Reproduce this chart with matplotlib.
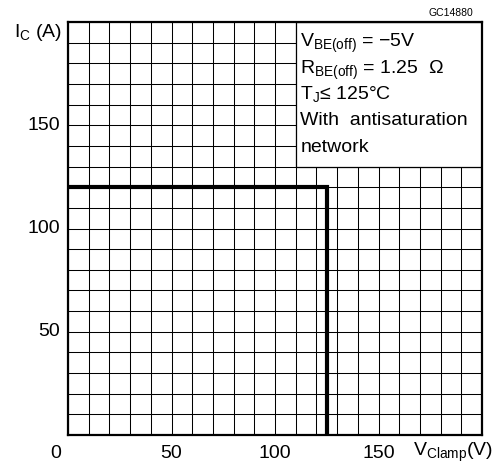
import matplotlib
matplotlib.use("Agg")
import matplotlib.pyplot as plt
from matplotlib.patches import Rectangle

plt.rcParams['font.family'] = ['Liberation Sans', 'DejaVu Sans']
plt.rcParams['mathtext.fontset'] = 'custom'
plt.rcParams['mathtext.rm'] = 'Liberation Sans'
plt.rcParams['mathtext.it'] = 'Liberation Sans'

# --- data ---
v_clamp = [0, 125, 125]      # V
i_c = [120, 120, 0]          # A
grid_step = 10
x_ticks = [50, 100, 150]
y_ticks = [50, 100, 150]
notes = [r'$\mathregular{V_{BE(off)}}$ = −5V',
         r'$\mathregular{R_{BE(off)}}$ = 1.25  Ω',
         r'$\mathregular{T_J}$≤ 125°C',
         'With  antisaturation',
         'network']
note_y = [188, 175, 162.7, 150.1, 137.1]

W, H = 496, 471
fig = plt.figure(figsize=(W / 100, H / 100), dpi=100)
ax = fig.add_axes([68 / W, 36 / H, 414 / W, 413 / H])
ax.set_xlim(0, 200)
ax.set_ylim(0, 200)

# grid
ax.set_xticks(range(0, 201, grid_step))
ax.set_yticks(range(0, 201, grid_step))
ax.set_xticklabels([])
ax.set_yticklabels([])
ax.tick_params(length=0)
ax.grid(True, color='black', lw=0.75)
ax.set_axisbelow(True)
for s in ax.spines.values():
    s.set_linewidth(1.6)

# tick labels
for v in x_ticks:
    ax.text(v, -5, str(v), ha='center', va='top', fontsize=14)
for v in y_ticks:
    ax.text(-4, v, str(v), ha='right', va='center', fontsize=14)
ax.text(-6, -5, '0', ha='center', va='top', fontsize=14)

# note box
ax.add_patch(Rectangle((110, 130), 90, 70, facecolor='white',
                       edgecolor='black', lw=0.9, zorder=2))
for t, y in zip(notes, note_y):
    ax.text(112.2, y, t, ha='left', va='baseline', fontsize=14, zorder=3)

# SOA curve
ax.plot(v_clamp, i_c, color='black', lw=3, solid_joinstyle='miter', zorder=4)

# axis labels
fig.text(62 / W, 1 - 37 / H, r'$\mathregular{I_C}$ (A)', ha='right',
         va='baseline', fontsize=14)
fig.text(493 / W, 1 - 456 / H, r'$\mathregular{V_{Clamp}(V)}$', ha='right',
         va='baseline', fontsize=14)
fig.text(473 / W, 1 - 16.5 / H, 'GC14880', ha='right', va='baseline',
         fontsize=7.5)

fig.savefig('out.png', dpi=100)
